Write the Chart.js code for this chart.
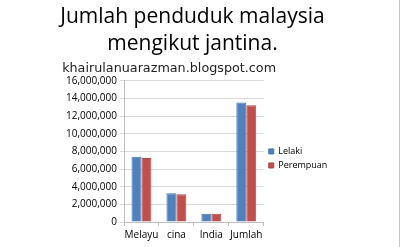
<!DOCTYPE html>
<html>
<head>
<meta charset="utf-8">
<script src="https://cdn.jsdelivr.net/npm/chart.js@4"></script>
<style>
  html, body { margin: 0; padding: 0; background: #fff; }
  #wrap { width: 399px; height: 247px; border-right: 1px solid #c8c8c8; }
</style>
</head>
<body>
<div id="wrap"><canvas id="chart" width="399" height="247"></canvas></div>
<script>
const categories = ["Melayu", "cina", "India", "Jumlah"];
const lelaki = [7410000, 3260000, 940000, 13540000];
const perempuan = [7260000, 3140000, 940000, 13240000];
const titleLines = ["Jumlah penduduk malaysia", "mengikut jantina."];
const watermark = "khairulanuarazman.blogspot.com";

const ctx = document.getElementById("chart").getContext("2d");
const chart = new Chart(ctx, {
  type: "bar",
  data: {
    labels: categories,
    datasets: [
      {
        label: "Lelaki",
        data: lelaki,
        backgroundColor: "#4f81bd",
        borderColor: "#4675ad",
        borderWidth: 1,
      },
      {
        label: "Perempuan",
        data: perempuan,
        backgroundColor: "#c0504d",
        borderColor: "#ad4542",
        borderWidth: 1,
      },
    ],
  },
  options: {
    responsive: false,
    animation: false,
    layout: { padding: { left: 50, right: 64, bottom: 3 } },
    categoryPercentage: 0.57,
    barPercentage: 1,
    plugins: {
      title: {
        display: true,
        text: titleLines,
        color: "#000",
        font: { family: "Open Sans", size: 21, weight: "normal", lineHeight: 1.3 },
        padding: { top: 3, bottom: 0 },
      },
      subtitle: {
        display: true,
        // watermark sits left of the title centre, so start-align with a small indent
        text: "   " + watermark,
        align: "start",
        color: "#222",
        font: { family: "DejaVu Sans", size: 12.75, weight: "normal" },
        padding: { top: 3, bottom: 5 },
      },
      legend: {
        position: "right",
        fullSize: false,
        // blank legend title only pushes the items down a little
        title: { display: true, text: " ", font: { size: 10 }, padding: 1 },
        labels: {
          boxWidth: 5,
          boxHeight: 5,
          padding: 5,
          color: "#000",
          font: { family: "Open Sans", size: 9 },
        },
      },
      tooltip: { enabled: false },
    },
    scales: {
      x: {
        grid: {
          drawOnChartArea: false,
          drawTicks: true,
          tickLength: 4,
          color: "#bfbfbf",
        },
        border: { color: "#bfbfbf" },
        ticks: {
          color: "#000",
          padding: 3,
          maxRotation: 0,
          autoSkip: false,
          font: { family: "Open Sans", size: 10 },
        },
      },
      y: {
        min: 0,
        max: 16000000,
        afterFit: (scale) => { scale.width = 74; },
        grid: { color: "#dadada", tickLength: 4 },
        border: { color: "#bfbfbf" },
        ticks: {
          stepSize: 2000000,
          color: "#000",
          padding: 3,
          font: { family: "Open Sans", size: 10 },
          callback: (v) => v.toLocaleString("en-US"),
        },
      },
    },
  },
});
</script>
</body>
</html>
